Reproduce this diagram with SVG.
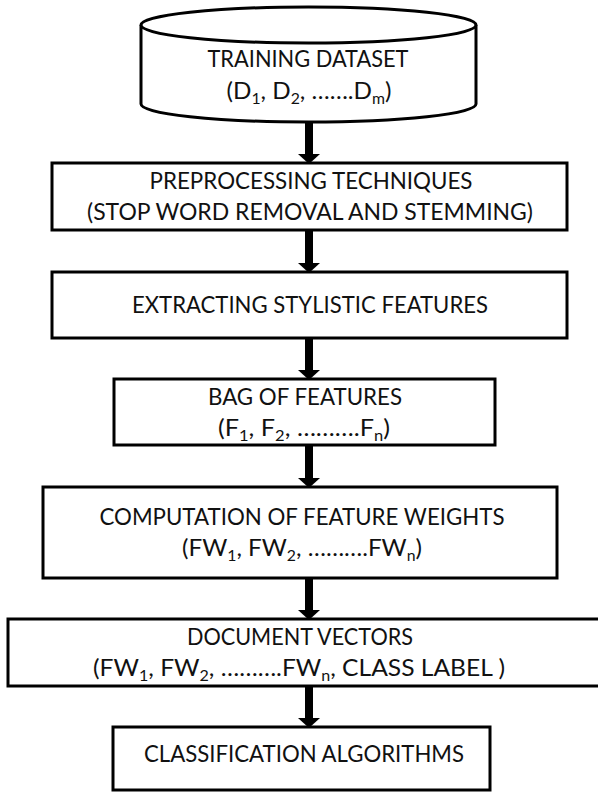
<svg xmlns="http://www.w3.org/2000/svg" width="598" height="792" viewBox="0 0 598 792">
<style>
.shape{fill:#fff;stroke:#000;stroke-width:3}
.t{font-family:Lato,"Open Sans","Liberation Sans",sans-serif;font-size:23px;fill:#111;text-anchor:middle}
.s{font-size:15px}
.conn{stroke:#000;stroke-width:8;fill:none;marker-end:url(#ah)}
</style>
<defs>
<marker id="ah" markerUnits="userSpaceOnUse" markerWidth="10" markerHeight="22" viewBox="0 0 10 22" refX="0" refY="11" orient="auto">
<path d="M0,0 L10,11 L0,22 Z" fill="#000"/>
</marker>
</defs>
<rect width="598" height="792" fill="#fff"/>
<g id="connectors">
<line class="conn" x1="309" y1="122" x2="309" y2="154"/>
<line class="conn" x1="309" y1="230" x2="309" y2="263"/>
<line class="conn" x1="309" y1="338" x2="309" y2="370"/>
<line class="conn" x1="309" y1="445" x2="309" y2="478"/>
<line class="conn" x1="309" y1="578" x2="309" y2="610"/>
<line class="conn" x1="309" y1="686" x2="309" y2="718"/>
</g>
<g id="training-dataset">
<path class="shape" d="M141,25 L141,104 A167.5,18 0 0 0 476,104 L476,25"/>
<ellipse class="shape" cx="308.5" cy="25" rx="167.5" ry="18"/>
<text class="t" x="308" y="67" textLength="201" lengthAdjust="spacingAndGlyphs">TRAINING DATASET</text>
<text class="t" x="309" y="99" textLength="165" lengthAdjust="spacingAndGlyphs">(D<tspan class="s" dy="5">1</tspan><tspan dy="-5">, D</tspan><tspan class="s" dy="5">2</tspan><tspan dy="-5">, …….D</tspan><tspan class="s" dy="5">m</tspan><tspan dy="-5">)</tspan></text>
</g>
<g id="preprocessing">
<rect class="shape" x="52" y="163" width="515" height="67"/>
<text class="t" x="311" y="189" textLength="323" lengthAdjust="spacingAndGlyphs">PREPROCESSING TECHNIQUES</text>
<text class="t" x="310" y="220" textLength="446" lengthAdjust="spacingAndGlyphs">(STOP WORD REMOVAL AND STEMMING)</text>
</g>
<g id="extracting">
<rect class="shape" x="52" y="272" width="515" height="66"/>
<text class="t" x="310" y="313" textLength="356" lengthAdjust="spacingAndGlyphs">EXTRACTING STYLISTIC FEATURES</text>
</g>
<g id="bag-of-features">
<rect class="shape" x="114" y="379" width="381" height="66"/>
<text class="t" x="305" y="405" textLength="194" lengthAdjust="spacingAndGlyphs">BAG OF FEATURES</text>
<text class="t" x="304" y="436" textLength="172" lengthAdjust="spacingAndGlyphs">(F<tspan class="s" dy="5">1</tspan><tspan dy="-5">, F</tspan><tspan class="s" dy="5">2</tspan><tspan dy="-5">, ……….F</tspan><tspan class="s" dy="5">n</tspan><tspan dy="-5">)</tspan></text>
</g>
<g id="feature-weights">
<rect class="shape" x="43" y="487" width="514" height="91"/>
<text class="t" x="302" y="525" textLength="405" lengthAdjust="spacingAndGlyphs">COMPUTATION OF FEATURE WEIGHTS</text>
<text class="t" x="302" y="556" textLength="240" lengthAdjust="spacingAndGlyphs">(FW<tspan class="s" dy="5">1</tspan><tspan dy="-5">, FW</tspan><tspan class="s" dy="5">2</tspan><tspan dy="-5">, ……….FW</tspan><tspan class="s" dy="5">n</tspan><tspan dy="-5">)</tspan></text>
</g>
<g id="document-vectors">
<rect class="shape" x="8" y="619" width="595" height="67"/>
<text class="t" x="300" y="645" textLength="226" lengthAdjust="spacingAndGlyphs">DOCUMENT VECTORS</text>
<text class="t" x="299" y="676" textLength="412" lengthAdjust="spacingAndGlyphs">(FW<tspan class="s" dy="5">1</tspan><tspan dy="-5">, FW</tspan><tspan class="s" dy="5">2</tspan><tspan dy="-5">, ……….FW</tspan><tspan class="s" dy="5">n</tspan><tspan dy="-5">, CLASS LABEL )</tspan></text>
</g>
<g id="classification">
<rect class="shape" x="113" y="727" width="377" height="63"/>
<text class="t" x="304" y="762" textLength="320" lengthAdjust="spacingAndGlyphs">CLASSIFICATION ALGORITHMS</text>
</g>
</svg>
